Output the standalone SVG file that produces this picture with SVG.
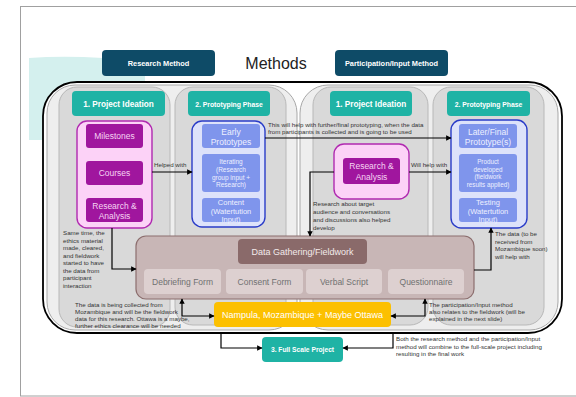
<svg xmlns="http://www.w3.org/2000/svg" width="576" height="397" viewBox="0 0 576 397">
<defs>
<marker id="ah" viewBox="0 0 10 10" refX="9" refY="5" markerWidth="4.5" markerHeight="4.5" orient="auto-start-reverse"><path d="M0,0 L10,5 L0,10 z" fill="#000"/></marker>
<style>
text{font-family:"Liberation Sans",Arial,sans-serif}
.hdr{fill:#0e4b67}
.hdrt{fill:#fff;font-weight:bold;font-size:7.4px;text-anchor:middle}
.teal{fill:#1fb3a5}
.tealt{fill:#fff;font-weight:bold;text-anchor:middle}
.col{fill:#d9d9d9;stroke:#b8b8b8;stroke-width:1}
.grp{fill:#eeeeee;stroke:#a8a8a8;stroke-width:1}
.pink{fill:#fcd2f7;stroke:#b02ab0;stroke-width:1.4}
.purp{fill:#a0169e}
.purpt{fill:#f6d4f3;font-size:8.5px;text-anchor:middle}
.blue{fill:#dde2fa;stroke:#2a3cc8;stroke-width:1.4}
.bin{fill:#7f95ec}
.bint{fill:#eef0ff;text-anchor:middle}
.form{fill:#ddd0d0}
.formt{fill:#707070;font-size:8.5px;text-anchor:middle}
.note{fill:#333;font-size:6.2px}
.conn{fill:none;stroke:#000;stroke-width:1.2;marker-end:url(#ah)}
</style>
</defs>
<rect x="20.5" y="6.5" width="600" height="389.5" fill="#fff" stroke="#a0a0a0" stroke-width="1"/>
<path d="M29,58 Q80,54 145,62 L145,140 L29,140 Z" fill="#d4f0ee"/>
<g id="research-method"><rect class="hdr" x="102" y="50" width="113" height="26" rx="4"/><text class="hdrt" x="158.5" y="66">Research Method</text></g>
<g id="title"><text x="276" y="69" font-size="16" fill="#222" text-anchor="middle">Methods</text></g>
<g id="participation-method"><rect class="hdr" x="335" y="50" width="113" height="26" rx="4"/><text class="hdrt" x="391.5" y="66">Participation/Input Method</text></g>
<g id="outer"><rect x="43" y="82" width="519" height="251" rx="34" fill="#fff" stroke="#000" stroke-width="1.8"/></g>
<g id="left-group"><rect class="grp" x="47" y="85" width="250" height="245" rx="28"/>
<rect class="col" x="59" y="87" width="111" height="240" rx="18"/>
<rect class="col" x="175" y="87" width="111" height="238" rx="18"/></g>
<g id="right-group"><rect class="grp" x="300" y="85" width="258" height="245" rx="28"/>
<rect class="col" x="313" y="87" width="115" height="238" rx="18"/>
<rect class="col" x="433" y="87" width="111" height="238" rx="18"/></g>
<g id="left-ideation"><rect class="teal" x="72" y="91" width="93" height="25" rx="4"/><text class="tealt" x="118.5" y="107" font-size="8.2">1. Project Ideation</text></g>
<g id="left-prototyping"><rect class="teal" x="188" y="91" width="82" height="25" rx="4"/><text class="tealt" x="229" y="106.5" font-size="6.8">2. Prototyping Phase</text></g>
<g id="right-ideation"><rect class="teal" x="330" y="91" width="82" height="25" rx="4"/><text class="tealt" x="371" y="107" font-size="8.2">1. Project Ideation</text></g>
<g id="right-prototyping"><rect class="teal" x="447" y="91" width="83" height="25" rx="4"/><text class="tealt" x="488.5" y="106.5" font-size="6.8">2. Prototyping Phase</text></g>
<g id="left-ideation-box"><rect class="pink" x="77" y="121" width="75" height="107" rx="10"/>
<rect class="purp" x="86" y="124" width="57" height="24" rx="3"/><text class="purpt" x="114.5" y="139">Milestones</text>
<rect class="purp" x="86" y="161" width="57" height="24" rx="3"/><text class="purpt" x="114.5" y="176">Courses</text>
<rect class="purp" x="86" y="198" width="57" height="24" rx="3"/><text class="purpt" x="114.5" y="209">Research &amp;</text><text class="purpt" x="114.5" y="219">Analysis</text></g>
<g id="left-prototype-box"><rect class="blue" x="192" y="121" width="73" height="106" rx="10"/>
<rect class="bin" x="202" y="124" width="58" height="24" rx="3"/><text class="bint" font-size="8.5" x="231" y="135">Early</text><text class="bint" font-size="8.5" x="231" y="145">Prototypes</text>
<rect class="bin" x="202" y="154" width="58" height="38" rx="3"/><text class="bint" font-size="6.5" x="231" y="164">Iterating</text><text class="bint" font-size="6.5" x="231" y="172">(Research</text><text class="bint" font-size="6.5" x="231" y="179.5">group input +</text><text class="bint" font-size="6.5" x="231" y="187">Research)</text>
<rect class="bin" x="202" y="198" width="58" height="24" rx="3"/><text class="bint" font-size="7.5" x="231" y="204.5">Content</text><text class="bint" font-size="7.5" x="231" y="213.5">(Watertution</text><text class="bint" font-size="7.5" x="231" y="221.5">Input)</text></g>
<g id="right-ideation-box"><rect class="pink" x="334" y="144" width="75" height="55" rx="10"/>
<rect class="purp" x="343" y="158" width="57" height="26" rx="3"/><text class="purpt" x="371.5" y="169">Research &amp;</text><text class="purpt" x="371.5" y="180">Analysis</text></g>
<g id="right-prototype-box"><rect class="blue" x="451" y="120" width="76" height="108" rx="10"/>
<rect class="bin" x="459" y="124" width="58" height="24" rx="3"/><text class="bint" font-size="8.5" x="488" y="135">Later/Final</text><text class="bint" font-size="8.5" x="488" y="145">Prototype(s)</text>
<rect class="bin" x="459" y="154" width="58" height="38" rx="3"/><text class="bint" font-size="6.3" x="488" y="164">Product</text><text class="bint" font-size="6.3" x="488" y="171.5">developed</text><text class="bint" font-size="6.3" x="488" y="179">(fieldwork</text><text class="bint" font-size="6.3" x="488" y="187">results applied)</text>
<rect class="bin" x="459" y="198" width="58" height="24" rx="3"/><text class="bint" font-size="7.5" x="488" y="204.5">Testing</text><text class="bint" font-size="7.5" x="488" y="213.5">(Watertution</text><text class="bint" font-size="7.5" x="488" y="221.5">Input)</text></g>
<g id="data-gathering"><rect x="136" y="236" width="338" height="63" rx="10" fill="#c8b6b6" stroke="#8c6e6e" stroke-width="1.2"/>
<rect x="238" y="239" width="129" height="25" rx="4" fill="#8a6a6a"/><text x="302.5" y="254.5" font-size="9" fill="#f3eaea" text-anchor="middle">Data Gathering/Fieldwork</text>
<rect class="form" x="144" y="269" width="77" height="25" rx="4"/><text class="formt" x="182.5" y="284.5">Debriefing Form</text>
<rect class="form" x="226" y="269" width="77" height="25" rx="4"/><text class="formt" x="264.5" y="284.5">Consent Form</text>
<rect class="form" x="306" y="269" width="76" height="25" rx="4"/><text class="formt" x="344" y="284.5">Verbal Script</text>
<rect class="form" x="388" y="269" width="76" height="25" rx="4"/><text class="formt" x="426" y="284.5">Questionnaire</text></g>
<g id="location"><rect x="214" y="302" width="177" height="25" rx="4" fill="#fcc000"/><text x="302.5" y="317.5" font-size="9" fill="#fff" text-anchor="middle">Nampula, Mozambique + Maybe Ottawa</text></g>
<g id="full-scale"><rect class="teal" x="262" y="337" width="81" height="25" rx="4"/><text class="tealt" x="302.5" y="352" font-size="6.7">3. Full Scale Project</text></g>
<g id="connectors">
<path class="conn" d="M152,172 H192"/>
<path class="conn" d="M265,138 H451"/>
<path class="conn" d="M409,172 H451"/>
<path class="conn" d="M334,172 H310 V236"/>
<path class="conn" d="M112,228 V269 H136"/>
<path class="conn" d="M474,270 H491 V228"/>
<path class="conn" d="M182,299 V316 H214" marker-start="url(#ah)"/>
<path class="conn" d="M425,299 V316 H391" marker-start="url(#ah)"/>
<path class="conn" d="M221,333 V348 H262"/>
<path class="conn" d="M393,333 V348 H343"/>
</g>
<g id="notes">
<text class="note" x="154" y="167">Helped with</text>
<text class="note" x="268" y="126.5">This will help with further/final prototyping, when the data</text>
<text class="note" x="268" y="134">from participants is collected and is going to be used</text>
<text class="note" x="411" y="166.5">Will help with</text>
<text class="note" x="313" y="206">Research about target</text>
<text class="note" x="313" y="214">audience and conversations</text>
<text class="note" x="313" y="222">and discussions also helped</text>
<text class="note" x="313" y="229.5">develop</text>
<text class="note" x="63" y="235">Same time, the</text>
<text class="note" x="63" y="242.5">ethics material</text>
<text class="note" x="63" y="250">made, cleared,</text>
<text class="note" x="63" y="257.5">and fieldwork</text>
<text class="note" x="63" y="265">started to have</text>
<text class="note" x="63" y="272.5">the data from</text>
<text class="note" x="63" y="280">participant</text>
<text class="note" x="63" y="287.5">interaction</text>
<text class="note" x="495" y="236">The data (to be</text>
<text class="note" x="495" y="243.5">received from</text>
<text class="note" x="495" y="251">Mozambique soon)</text>
<text class="note" x="495" y="258.5">will help with</text>
<text class="note" x="429" y="307">The participation/Input method</text>
<text class="note" x="429" y="314">also relates to the fieldwork (will be</text>
<text class="note" x="429" y="321">explained in the next slide)</text>
<text class="note" x="75" y="307">The data is being collected from</text>
<text class="note" x="75" y="314">Mozambique and will be the fieldwork</text>
<text class="note" x="75" y="321">data for this research. Ottawa is a maybe,</text>
<text class="note" x="75" y="327.5">further ethics clearance will be needed</text>
<text class="note" x="396" y="341">Both the research method and the participation/Input</text>
<text class="note" x="396" y="348.5">method will combine to the full-scale project including</text>
<text class="note" x="396" y="356">resulting in the final work</text>
</g>
</svg>
